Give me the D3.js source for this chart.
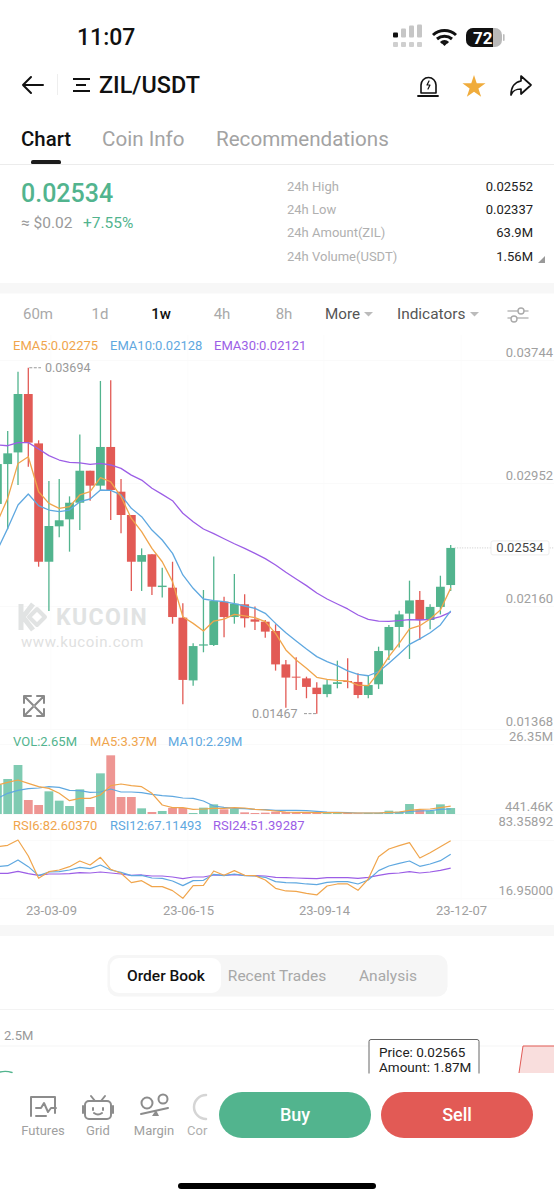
<!DOCTYPE html>
<html><head><meta charset="utf-8">
<script src="https://cdn.jsdelivr.net/npm/d3@7/dist/d3.min.js"></script>
<style>html,body{margin:0;padding:0;background:#fff}svg{display:block}text{font-family:Roboto,sans-serif}</style>
</head><body><svg id="c" width="554" height="1200"></svg>
<script>
const openP=[.02817,.03074,.03149,.03525,.03207,.02445,.02673,.02718,.02825,.03031,.02935,.03184,.02896,.02746,.02445,.02493,.02282,.02278,.02085,.01681,.01905,.01909,.02188,.02089,.02171,.02074,.02059,.01999,.01784,.01705,.01694,.01634,.01593,.01658,.01677,.01671,.01587,.01656,.01875,.02025,.02111,.02199,.02070,.02154,.02295];
const closeP=[.03074,.03143,.03525,.03212,.02445,.02675,.02712,.02825,.03031,.02935,.03184,.02907,.02746,.02445,.02488,.02284,.02291,.02089,.01684,.01902,.01913,.02192,.02089,.02175,.02081,.02059,.01995,.01784,.01699,.01699,.01639,.01593,.01654,.01669,.01673,.01587,.01651,.01870,.02025,.02106,.02196,.02070,.02154,.02284,.02534];
const highP=[.03282,.03287,.03669,.03694,.03227,.02965,.02978,.02866,.03265,.03031,.03609,.03613,.02978,.02746,.02531,.02493,.02407,.02445,.02177,.01920,.02263,.02478,.02220,.02366,.02235,.02156,.02070,.02042,.01812,.01830,.01705,.01669,.01684,.01808,.01823,.01727,.01716,.01898,.02038,.02130,.02323,.02257,.02171,.02355,.02552];
const lowP=[.02703,.02654,.02939,.03057,.02413,.02128,.02602,.02510,.02649,.02838,.02907,.02714,.02628,.02257,.02257,.02231,.02214,.02046,.01527,.01647,.01862,.01902,.01958,.02046,.02021,.02005,.01956,.01744,.01505,.01619,.01566,.01467,.01572,.01630,.01630,.01566,.01566,.01626,.01812,.01892,.01819,.01941,.02010,.02106,.02257];
const ema5=[.02703,.02853,.03078,.03121,.02896,.02821,.02789,.02800,.02875,.02896,.02986,.02960,.02864,.02724,.02639,.02531,.02445,.02317,.02091,.02048,.01999,.02063,.02076,.02106,.02096,.02085,.02059,.01984,.01877,.01812,.01759,.01701,.01688,.01681,.01677,.01651,.01647,.01733,.01834,.01920,.02012,.02033,.02076,.02134,.02275];
const ema10=[.02521,.02660,.02810,.02881,.02806,.02778,.02767,.02778,.02832,.02849,.02907,.02905,.02875,.02789,.02735,.02649,.02585,.02499,.02360,.02274,.02205,.02194,.02188,.02175,.02160,.02145,.02113,.02048,.01988,.01935,.01883,.01834,.01802,.01776,.01742,.01720,.01711,.01737,.01791,.01851,.01913,.01948,.01988,.02038,.02128];
const ema30=[.03197,.03192,.03212,.03212,.03171,.03128,.03100,.03085,.03081,.03072,.03078,.03068,.03046,.03003,.02971,.02918,.02879,.02838,.02757,.02703,.02656,.02626,.02593,.02561,.02531,.02499,.02465,.02424,.02377,.02334,.02291,.02244,.02205,.02173,.02141,.02102,.02074,.02063,.02061,.02066,.02072,.02070,.02074,.02091,.02121];
const vol=[11.42,13.40,18.58,5.62,3.77,8.83,5.38,3.40,9.57,3.03,15.49,22.16,6.73,6.73,2.54,1.18,1.55,2.66,2.66,.81,2.79,4.02,2.17,2.42,1.06,.81,.94,1.30,1.18,1.06,.94,.94,1.18,1.06,.81,.69,.81,.81,1.67,1.30,4.14,1.92,1.67,4.02,2.65];
const volMA5=[11.18,12.16,13.03,11.79,10.56,9.94,8.09,5.38,6.24,6.24,7.47,10.93,11.55,10.93,10.56,8.09,3.77,2.79,2.79,2.17,2.29,2.54,2.54,2.79,2.66,2.17,1.92,1.55,1.18,1.06,1.06,.94,.94,.94,.81,.81,.81,.81,1.06,1.18,1.80,2.17,2.29,2.79,3.37];
const volMA10=[6.24,8.09,9.20,9.82,10.07,10.56,10.31,9.20,9.08,8.46,8.59,9.70,8.59,8.59,8.34,7.72,7.23,6.98,6.36,6.24,5.25,3.40,2.91,2.54,2.42,2.17,2.04,1.80,1.80,1.80,1.67,1.43,1.18,1.06,.94,.81,.81,.81,.94,.94,1.43,1.55,1.67,2.17,2.29];
const rsi6=[75.77,77.29,83.36,65.15,39.72,47.31,49.21,53.00,59.45,54.90,63.63,49.97,45.41,34.79,37.06,30.23,30.23,25.68,16.95,31.37,31.75,48.07,43.14,48.45,43.14,42.76,37.82,28.34,25.30,24.92,22.64,20.75,30.99,33.27,33.27,26.06,38.96,64.39,73.12,76.91,80.33,62.87,68.94,75.77,82.60];
const rsi12=[53.00,54.14,60.59,53.00,42.76,46.93,47.31,49.21,52.24,50.73,54.90,49.21,46.55,42.76,43.14,40.10,39.72,36.68,31.37,37.06,37.44,44.27,42.76,44.65,42.76,42.38,40.86,35.93,34.79,34.41,33.27,32.51,35.17,35.93,35.93,33.27,37.82,48.45,53.76,56.80,59.45,53.38,56.04,59.83,67.11];
const rsi24=[45.41,45.41,47.69,45.03,43.14,44.65,44.65,45.03,46.17,45.79,46.93,45.79,44.65,43.14,43.52,42.38,42.38,41.24,39.34,41.24,41.24,43.52,43.14,43.89,43.14,42.76,42.38,40.86,40.48,40.10,39.72,39.34,40.48,40.48,40.48,39.72,40.86,43.14,45.03,45.79,47.31,45.79,46.93,48.83,51.39];
const priceTicks=[.03744,.02952,.02160,.01368];
const volTicks=[26.35,.44146];
const volTickLabels=["26.35M","441.46K"];
const rsiTicks=[83.35892,16.95];
const dateTickPos=[5.2,18.5,31.7,45];
const dateLabels=["23-03-09","23-06-15","23-09-14","23-12-07"];

const GREEN="#52b48e",RED="#e25a55",ORANGE="#f0a54c",BLUE="#5fa8e0",PURPLE="#9c5ee6",GREY="#a0a0a0";
const svg=d3.select("#c");
const x=d3.scaleLinear().domain([0,44]).range([-2.6,450.7]);
const yP=d3.scaleLinear().domain([.01368,.03744]).range([729,360]);
const yV=d3.scaleLinear().domain([.44146,26.35]).range([814,744]);
const yR=d3.scaleLinear().domain([16.95,83.35892]).range([898.3,840]);
const idx=d3.range(openP.length);

function T(s,px,py,o={}){const t=svg.append("text").attr("x",px).attr("y",py).text(s)
 .attr("font-size",o.size||13).attr("fill",o.fill||GREY).attr("font-weight",o.weight||400)
 .attr("text-anchor",o.anchor||"start");if(o.ls)t.attr("letter-spacing",o.ls);return t;}
function P(d,o={}){return svg.append("path").attr("d",d).attr("fill",o.fill||"none")
 .attr("stroke",o.stroke||"none").attr("stroke-width",o.w||1).attr("stroke-linecap",o.cap||"round").attr("stroke-linejoin","round");}
function R(a,b,w,h,f,r){return svg.append("rect").attr("x",a).attr("y",b).attr("width",w).attr("height",h).attr("fill",f).attr("rx",r||0);}

/* status bar and header */
T("11:07",77,45,{size:23,weight:500,fill:"#111"});
[[393,.9],[401,.35],[409,.35],[417,.35]].forEach((d,i)=>{
 const h=[5,9,12,13][i];R(d[0],37.5-h,5,h,i?"#c6c6c6":"#111",1);R(d[0],42,5,5,"#cfcfcf",1);});
P("M433 35a17 17 0 0 1 23 0M437 39a11.5 11.5 0 0 1 15 0M441 43a5 5 0 0 1 7 0",{stroke:"#111",w:3,cap:"butt"});
P("M444.5 46l-2.5-2.5a3.5 3.5 0 0 1 5 0z",{fill:"#111"});
R(466,28,36,19,"#b9b9b9",7);
svg.append("clipPath").attr("id","bat").append("rect").attr("x",466).attr("y",28).attr("width",27).attr("height",19);
R(466,28,36,19,"#111",7).attr("clip-path","url(#bat)");
T("72",473,44,{size:17,weight:700,fill:"#fff"});
R(503,34,1.6,7,"#bbb",1);
P("M23 85h20M31 77l-8 8 8 8",{stroke:"#111",w:2});
R(57,74,1,21,"#eee");
P("M73 79h17M76 85h10M73 91h17",{stroke:"#111",w:2,cap:"butt"});
T("ZIL/USDT",99,93,{size:23.4,weight:500,fill:"#111"});
P("M421 93V85a7.5 7.5 0 0 1 15 0V93z",{stroke:"#111",w:1.6});
P("M418 96h20",{stroke:"#111",w:1.8});
P("M429 81l-2 4h3l-2 4",{stroke:"#111",w:1.2});
svg.append("path").attr("fill","#f0ac3c").attr("d",d3.symbol(d3.symbolStar,165)()).attr("transform","translate(474,87)");
P("M521 76l10 9-10 9v-5c-5 0-8 1-10 6 0-8 4-13 10-14z",{stroke:"#111",w:1.7});
T("Chart",21,146,{size:20.4,weight:500,fill:"#111"});
T("Coin Info",102,146,{size:20.6,fill:"#a3a3a3"});
T("Recommendations",216,146,{size:20.6,fill:"#a3a3a3"});
R(31,160,30,4.5,"#1c1c1c",2);
R(0,164,554,1,"#ececec");
T("0.02534",21,202,{size:25,weight:500,fill:GREEN});
T("≈ $0.02",21,228,{size:15.5,fill:"#9a9a9a"});
T("+7.55%",83,228,{size:15.5,fill:GREEN});
const statL=["24h High","24h Low","24h Amount(ZIL)","24h Volume(USDT)"],statV=["0.02552","0.02337","63.9M","1.56M"];
statL.forEach((s,i)=>{const b=191+i*23.2;T(s,287,b,{size:13,fill:"#b0b0b0"});T(statV[i],533,b,{size:13,fill:"#222",anchor:"end"});});
P("M538 263h7v-7z",{fill:"#999"});
R(0,283,554,10.5,"#f7f7f7");
[["60m",38],["1d",100],["1w",161],["4h",222],["8h",284]].forEach(d=>T(d[0],d[1],319,{size:15,anchor:"middle",fill:d[0]=="1w"?"#111":"#a9a9a9",weight:d[0]=="1w"?500:400}));
T("More",325,319,{size:15.2,fill:"#555"});P("M364 312h9l-4.5 4.5z",{fill:"#bbb"});
T("Indicators",397,319,{size:15.4,fill:"#555"});P("M470 312h9l-4.5 4.5z",{fill:"#bbb"});
P("M508 311h20M508 318h20",{stroke:"#bbb",w:1.5});
svg.append("circle").attr("cx",521).attr("cy",311).attr("r",3).attr("fill","#fff").attr("stroke","#aaa").attr("stroke-width",1.4);
svg.append("circle").attr("cx",514).attr("cy",319).attr("r",3).attr("fill","#fff").attr("stroke","#aaa").attr("stroke-width",1.4);

/* grid and axes */
const gridC="#fafafa";
dateTickPos.forEach(d=>svg.append("line").attr("x1",x(d)).attr("x2",x(d)).attr("y1",335).attr("y2",900).attr("stroke","#fcfcfc"));
function axis(scale,vals,fmt,dys){
 const g=svg.append("g").attr("transform","translate(554,0)")
  .call(d3.axisLeft(scale).tickValues(vals).tickFormat(fmt).tickSize(554).tickPadding(-554));
 g.select(".domain").remove();
 g.selectAll("line").attr("stroke",gridC);
 g.selectAll("text").attr("x",-1).attr("dy",(d,i)=>dys[i]).attr("text-anchor","end").attr("font-size",13).attr("font-family","Roboto").attr("fill",GREY);
}
axis(yP,priceTicks,d=>d.toFixed(5),[-4,-4,-4,-4]);
axis(yV,volTicks,(d,i)=>volTickLabels[i],[-4,-4]);
axis(yR,rsiTicks,d=>d.toFixed(5),[-15,-3.5]);

/* watermark */
P("M21 604v26M33 604l-10 13 10 13",{stroke:"#e1e3e3",w:5,cap:"butt"});
P("M37 609l8 8-8 8-8-8z",{stroke:"#e1e3e3",w:4});
T("KUCOIN",56,625,{size:23,weight:700,fill:"#e1e3e3",ls:1.4});
T("www.kucoin.com",21,647,{size:15,fill:"#dfe1e1",ls:.6});

/* candles */
const cw=8.8;
const cg=svg.append("g");
cg.selectAll("line").data(idx).join("line")
 .attr("x1",i=>x(i)).attr("x2",i=>x(i)).attr("y1",i=>yP(highP[i])).attr("y2",i=>yP(lowP[i]))
 .attr("stroke",i=>closeP[i]>=openP[i]?GREEN:RED).attr("stroke-width",1.3);
cg.selectAll("rect").data(idx).join("rect")
 .attr("x",i=>x(i)-cw/2).attr("width",cw)
 .attr("y",i=>yP(Math.max(openP[i],closeP[i])))
 .attr("height",i=>Math.max(1,Math.abs(yP(openP[i])-yP(closeP[i]))))
 .attr("fill",i=>closeP[i]>=openP[i]?GREEN:RED);
function line(arr,sc,c,w){svg.append("path").datum(arr).attr("fill","none").attr("stroke",c).attr("stroke-width",w||1.3)
 .attr("stroke-linejoin","round").attr("d",d3.line().x((d,i)=>x(i)).y(d=>sc(d)));}
line(ema30,yP,PURPLE);line(ema10,yP,BLUE);line(ema5,yP,ORANGE);

/* legends */
T("EMA5:0.02275",13,349.5,{fill:ORANGE});T("EMA10:0.02128",110,349.5,{fill:BLUE});T("EMA30:0.02121",214,349.5,{fill:PURPLE});
T("VOL:2.65M",13,745.5,{fill:GREEN});T("MA5:3.37M",90,745.5,{fill:ORANGE});T("MA10:2.29M",168,745.5,{fill:BLUE});
T("RSI6:82.60370",13,829.5,{fill:ORANGE});T("RSI12:67.11493",110,829.5,{fill:BLUE});T("RSI24:51.39287",213,829.5,{fill:PURPLE});

/* annotations */
svg.append("line").attr("x1",x(3)+1).attr("x2",41).attr("y1",yP(.03694)).attr("y2",yP(.03694)).attr("stroke","#999").attr("stroke-dasharray","3 1.5");
T("0.03694",45,yP(.03694)+4.5,{size:12.5,fill:"#9a9a9a"});
svg.append("line").attr("x1",304).attr("x2",x(31)).attr("y1",yP(.01467)).attr("y2",yP(.01467)).attr("stroke","#999").attr("stroke-dasharray","3 1.5");
T("0.01467",252,yP(.01467)+4.5,{size:12.5,fill:"#9a9a9a"});
svg.append("line").attr("x1",x(44)+4).attr("x2",554).attr("y1",yP(.02534)).attr("y2",yP(.02534)).attr("stroke","#c9c9c9").attr("stroke-dasharray","1 1.5");
svg.append("rect").attr("x",491).attr("y",yP(.02534)-7).attr("width",58).attr("height",14).attr("rx",2).attr("fill","#fff").attr("stroke","#ededed");
T("0.02534",520,yP(.02534)+4.5,{size:13,fill:"#444",anchor:"middle"});

/* expand icon */
P("M24 703v-7h7M37 696h7v7M44 709v7h-7M31 716h-7v-7M25 697l8 8M43 697l-8 8M43 715l-8-8M25 715l8-8",{stroke:"#8a8a8a",w:2});

/* volume */
svg.append("g").selectAll("rect").data(idx).join("rect")
 .attr("x",i=>x(i)-cw/2).attr("width",cw).attr("y",i=>yV(vol[i])).attr("height",i=>yV(.44146)-yV(vol[i]))
 .attr("fill",i=>closeP[i]>=openP[i]?"#7fcbb2":"#ee9693");
line(volMA10,yV,BLUE,1.2);line(volMA5,yV,ORANGE,1.2);

/* rsi */
line(rsi24,yR,PURPLE,1.2);line(rsi12,yR,BLUE,1.2);line(rsi6,yR,ORANGE,1.2);

/* date axis */
const ax=svg.append("g").attr("transform","translate(0,900)")
 .call(d3.axisBottom(x).tickValues(dateTickPos).tickSize(0).tickPadding(6).tickFormat((d,i)=>dateLabels[i]));
ax.select(".domain").remove();
ax.selectAll("text").attr("font-size",13).attr("font-family","Roboto").attr("fill",GREY);

/* order book */
R(0,925,554,11,"#f7f7f7");
R(107.5,955,340,41.5,"#f6f6f6",10);
R(110,958,111,35,"#fff",9);
T("Order Book",166,981,{size:15.5,weight:500,fill:"#111",anchor:"middle"});
T("Recent Trades",277,981,{size:15.5,fill:"#a8a8a8",anchor:"middle"});
T("Analysis",388,981,{size:15.5,fill:"#a8a8a8",anchor:"middle"});
R(0,1009,554,1,"#f3f3f3");
T("2.5M",4,1040,{size:13,fill:"#999"});
R(0,1045.5,554,1,"#f6f6f6");
P("M519 1073L523 1046H554V1073Z",{fill:"#f9dedd"});
P("M519 1073L523 1046H554",{stroke:"#e25a55",w:1,cap:"butt"});
P("M0 1072q6-1.5 12 0.5",{stroke:GREEN,w:1.4});
svg.append("rect").attr("x",369).attr("y",1039.5).attr("width",110).attr("height",40).attr("rx",2).attr("fill","#fff").attr("stroke","#666");
T("Price: 0.02565",379,1057,{size:13.5,fill:"#222"});
T("Amount: 1.87M",379,1072,{size:13.5,fill:"#222"});
R(0,1073.5,554,126.5,"#fff");

/* bottom bar */
P("M31 1116v-19h24v16M36 1116h10M36 1108h5l3-5 4 9 3-4h5",{stroke:"#8c8c8c",w:2});
P("M89 1101h18a4 4 0 0 1 4 4v10a4 4 0 0 1-4 4H89a4 4 0 0 1-4-4v-10a4 4 0 0 1 4-4zM91 1096l4 5M105 1096l-4 5M83 1106v7M113 1106v7M93 1108v2M103 1108v2M94 1113q4 3 8 0",{stroke:"#8c8c8c",w:2});
svg.append("circle").attr("cx",147).attr("cy",1103).attr("r",5.5).attr("fill","none").attr("stroke","#8c8c8c").attr("stroke-width",2);
svg.append("circle").attr("cx",163).attr("cy",1099).attr("r",4.5).attr("fill","none").attr("stroke","#8c8c8c").attr("stroke-width",2);
P("M141 1114l27-6",{stroke:"#8c8c8c",w:2});P("M152 1116l4-6 3 6z",{fill:"#8c8c8c"});
P("M206 1095a12 12 0 0 0 0 24",{stroke:"#d5d5d5",w:2.5});
T("Futures",43,1135,{anchor:"middle",fill:"#a0a0a0"});T("Grid",98,1135,{anchor:"middle",fill:"#a0a0a0"});
T("Margin",154,1135,{anchor:"middle",fill:"#a0a0a0"});T("Cor",187,1135,{fill:"#b0b0b0"});
R(219,1092,152,46,GREEN,23);R(381,1092,152,46,RED,23);
T("Buy",295,1121,{size:18,weight:500,fill:"#fff",anchor:"middle"});
T("Sell",457,1121,{size:18,weight:500,fill:"#fff",anchor:"middle"});
R(178,1183,198,6,"#000",3);
</script></body></html>
